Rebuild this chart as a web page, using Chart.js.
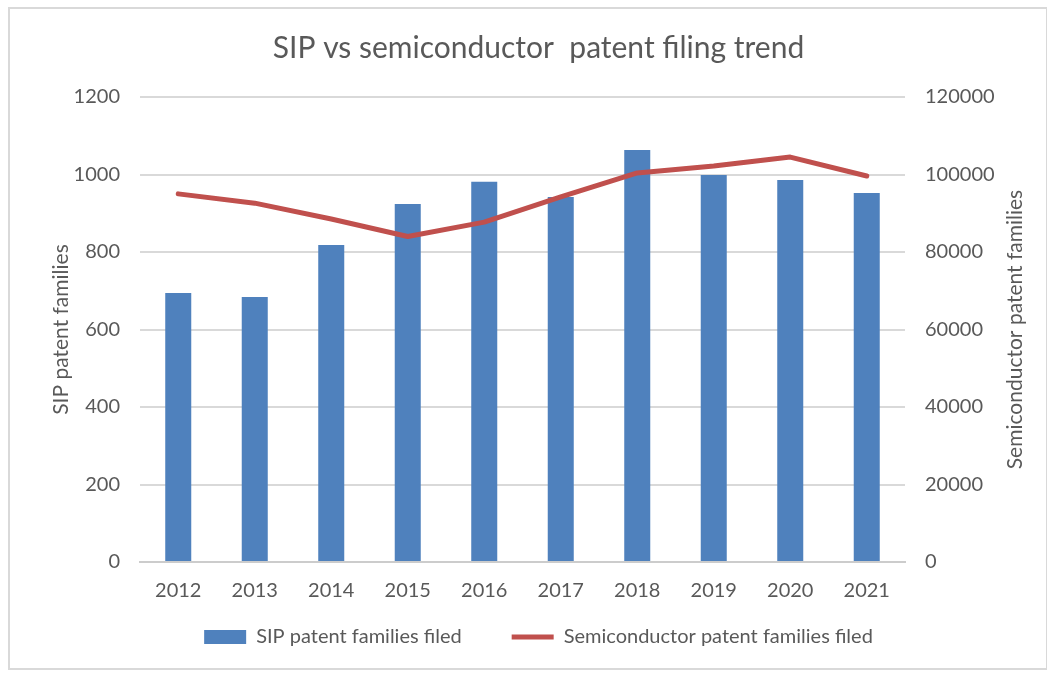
<!DOCTYPE html>
<html>
<head>
<meta charset="utf-8">
<script src="https://cdn.jsdelivr.net/npm/chart.js@4/dist/chart.umd.min.js"></script>
<style>
  html, body { margin: 0; padding: 0; background: #fff; }
  #frame {
    position: absolute; left: 8px; top: 7px; width: 1040px; height: 663px;
    border: 2px solid #d9d9d9; box-sizing: border-box;
  }
  #chart { position: absolute; left: 0; top: 0; }
</style>
</head>
<body>
<div id="frame"></div>
<canvas id="chart" width="1047" height="673"></canvas>
<script>
const years = ["2012", "2013", "2014", "2015", "2016", "2017", "2018", "2019", "2020", "2021"];
const sipFamilies = [694, 684, 818, 924, 981, 942, 1063, 999, 986, 952];
const semiFamilies = [95000, 92600, 88500, 84000, 87700, 94200, 100400, 102200, 104500, 99600];

const textColor = "#595959";
const fontName = "Lato, 'Open Sans', sans-serif";
const rightTitle = "Semiconductor patent families";

// right axis title reads bottom-to-top like the left one
const rightTitlePlugin = {
  id: "rightTitle",
  afterDraw(chart) {
    const area = chart.chartArea;
    const c = chart.ctx;
    c.save();
    c.translate(1015, (area.top + area.bottom) / 2);
    c.rotate(-Math.PI / 2);
    c.fillStyle = textColor;
    c.font = "21px " + fontName;
    c.textAlign = "center";
    c.textBaseline = "middle";
    c.fillText(rightTitle, 0, 0);
    c.restore();
  },
};

const ctx = document.getElementById("chart");

new Chart(ctx, {
  type: "bar",
  data: {
    labels: years,
    datasets: [
      {
        label: "SIP patent families filed",
        data: sipFamilies,
        backgroundColor: "#4f81bd",
        borderWidth: 0,
        categoryPercentage: 0.68,
        barPercentage: 0.5,
        yAxisID: "y",
        order: 2,
        pointStyle: "rect",
      },
      {
        label: "Semiconductor patent families filed",
        type: "line",
        data: semiFamilies,
        borderColor: "#c0504d",
        backgroundColor: "#c0504d",
        borderWidth: 5,
        borderCapStyle: "round",
        borderJoinStyle: "round",
        pointRadius: 0,
        tension: 0,
        yAxisID: "y1",
        order: 1,
        pointStyle: "line",
      },
    ],
  },
  options: {
    responsive: false,
    animation: false,
    devicePixelRatio: 1,
    layout: { padding: { left: 45, right: 15, top: 10, bottom: 16 } },
    scales: {
      x: {
        grid: { display: false, drawTicks: false },
        border: { color: "#cccccc", width: 2 },
        // mirror keeps the labels unclipped while the axis box stays short
        ticks: { color: textColor, font: { family: fontName, size: 20 }, padding: -41, mirror: true },
        afterFit: (s) => { s.height = 15; },
      },
      y: {
        position: "left",
        min: 0,
        max: 1200,
        ticks: {
          stepSize: 200,
          color: textColor,
          font: { family: fontName, size: 20 },
          padding: 20,
          callback: (v) => String(v),
        },
        grid: { color: "#d9d9d9", lineWidth: 2, drawTicks: false },
        border: { display: false },
        title: {
          display: true,
          text: "SIP patent families",
          color: textColor,
          font: { family: fontName, size: 21 },
          padding: { top: 4, bottom: 4 },
        },
        afterFit: (s) => { s.width = 95; },
      },
      y1: {
        position: "right",
        min: 0,
        max: 120000,
        ticks: {
          stepSize: 20000,
          color: textColor,
          font: { family: fontName, size: 20 },
          padding: 20,
          callback: (v) => String(v),
        },
        grid: { display: false, drawTicks: false },
        border: { display: false },
        afterFit: (s) => { s.width = 127; },
      },
    },
    plugins: {
      title: {
        display: true,
        text: "SIP vs semiconductor  patent filing trend",
        color: textColor,
        font: { family: fontName, size: 30, weight: "normal" },
        padding: { top: 20, bottom: 31 },
      },
      legend: {
        position: "bottom",
        labels: {
          color: textColor,
          font: { family: fontName, size: 20 },
          usePointStyle: true,
          pointStyleWidth: 42,
          boxHeight: 14,
          padding: 50,
          sort: (a, b) => a.datasetIndex - b.datasetIndex,
        },
      },
      tooltip: { enabled: false },
    },
  },
  plugins: [rightTitlePlugin],
});
</script>
</body>
</html>
